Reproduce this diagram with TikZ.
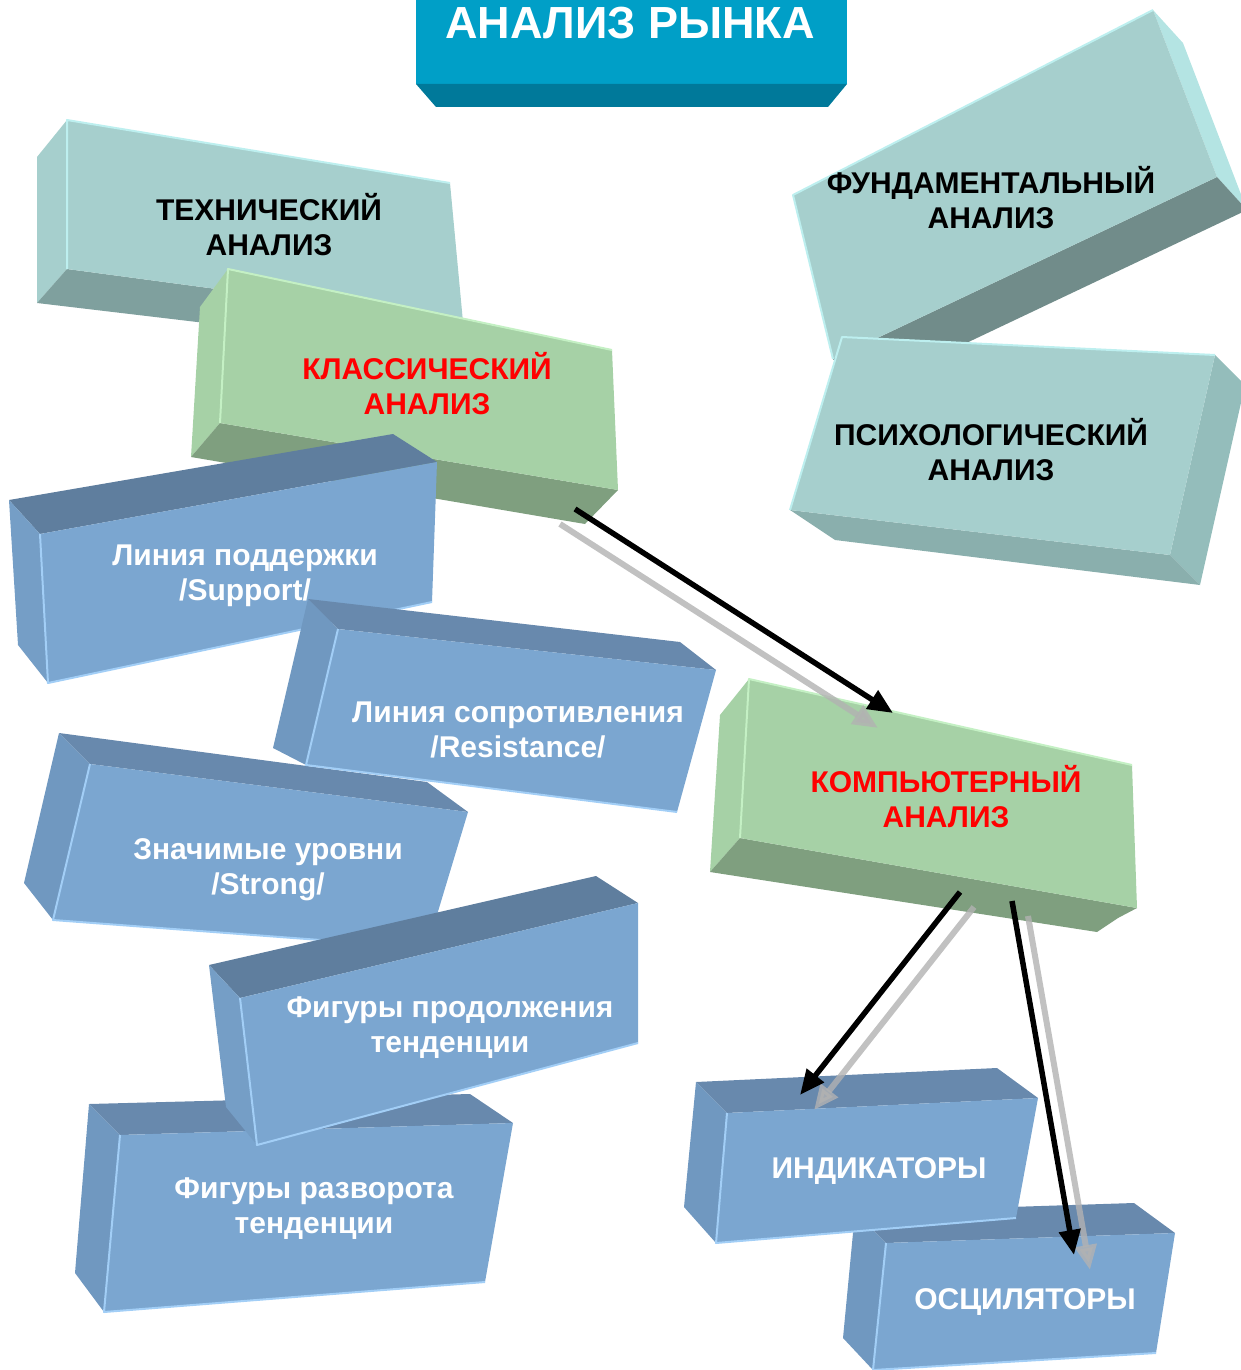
\documentclass[tikz,border=0pt]{standalone}
\usepackage{fontspec}
\setmainfont{Liberation Sans}
\usetikzlibrary{arrows.meta,calc}
\definecolor{titlefront}{HTML}{009FC7}
\definecolor{titlebottom}{HTML}{00799A}
\definecolor{tealfront}{HTML}{A6CFCD}
\definecolor{tealedge}{HTML}{BDEFEF}
\definecolor{tealside}{HTML}{B4E4E3}
\definecolor{tealbottom}{HTML}{7FA09E}
\definecolor{tealdark}{HTML}{718C8A}
\definecolor{tealright}{HTML}{94BDBB}
\definecolor{tealunder}{HTML}{8AAFAD}
\definecolor{greenfront}{HTML}{A6D1A6}
\definecolor{greenedge}{HTML}{C4F0C4}
\definecolor{greenbottom}{HTML}{7F9F7F}
\definecolor{bluefront}{HTML}{7BA6D0}
\definecolor{blueside}{HTML}{7098C0}
\definecolor{bluetop}{HTML}{5F7E9E}
\definecolor{bluetoplt}{HTML}{6889AD}
\definecolor{blueedge}{HTML}{A2CEF6}
\definecolor{redtext}{HTML}{FF0000}
\begin{document}
\begin{tikzpicture}[x=1pt,y=-1pt,
  blocktext/.style={font=\bfseries\fontsize{30}{35}\selectfont,align=center,inner sep=0pt},
  tealedgeline/.style={draw=tealedge,line width=2pt,line join=round},
  greenedgeline/.style={draw=greenedge,line width=2pt,line join=round},
  blueedgeline/.style={draw=blueedge,line width=2pt,line join=round},
  mainline/.style={line width=5.5pt,black,-{Triangle[length=25pt,width=21pt]}},
  shadowline/.style={line width=6pt,black!30,opacity=.8,-{Triangle[length=25pt,width=21pt]}}]
\useasboundingbox (0,0) rectangle (1241,1370);
% title bar
\fill[titlefront] (416,0) rectangle (847,84);
\fill[titlebottom] (416,84) -- (847,84) -- (828,107) -- (436,107) -- cycle;
\node[blocktext,font=\bfseries\fontsize{45}{50}\selectfont,text=white] (title) at (630,23) {АНАЛИЗ РЫНКА};
% technical analysis (teal, seen from below)
\fill[tealfront] (37,157) -- (67,120) -- (67,269) -- (37,303) -- cycle;
\fill[tealbottom] (37,303) -- (67,269) -- (463,322) -- (433,350) -- cycle;
\fill[tealfront] (67,120) -- (450,183) -- (463,322) -- (67,269) -- cycle;
\draw[tealedgeline] (67,269) -- (67,120) -- (450,183);
\node[blocktext] (tech) at (269,225) {ТЕХНИЧЕСКИЙ\\АНАЛИЗ};
% classical analysis (green)
\fill[greenfront] (200,307) -- (228,269) -- (220,423) -- (191,457) -- cycle;
\fill[greenbottom] (191,457) -- (220,423) -- (618,490) -- (585,524) -- cycle;
\fill[greenfront] (228,269) -- (612,350) -- (618,490) -- (220,423) -- cycle;
\draw[greenedgeline] (220,423) -- (228,269) -- (612,350);
\node[blocktext,text=redtext] (klass) at (427,384) {КЛАССИЧЕСКИЙ\\АНАЛИЗ};
% support line
\fill[bluetop] (9,500) -- (393,434) -- (437,462) -- (40,534) -- cycle;
\fill[bluefront!95!black] (9,500) -- (40,534) -- (48,683) -- (18,645) -- cycle;
\fill[bluefront] (40,534) -- (437,462) -- (432,602) -- (48,683) -- cycle;
\draw[blueedgeline] (40,534) -- (48,683) -- (432,602);
\node[blocktext,text=white] (support) at (245,576) {Линия поддержки\\/Support/};
% fundamental analysis (teal, tilted)
\fill[tealside] (1153,10) -- (1183,43) -- (1247,210) -- (1217,177) -- cycle;
\fill[tealdark] (833,359) -- (1217,177) -- (1247,210) -- (863,392) -- cycle;
\fill[tealfront] (793,195) -- (1153,10) -- (1217,177) -- (833,359) -- cycle;
\draw[tealedgeline] (833,359) -- (793,195) -- (1153,10);
\node[blocktext] (fund) at (991,198) {ФУНДАМЕНТАЛЬНЫЙ\\АНАЛИЗ};
% psychological analysis (teal)
\fill[tealright] (1215,355) -- (1245,385) -- (1200,585) -- (1170,555) -- cycle;
\fill[tealunder] (790,510) -- (1170,555) -- (1200,585) -- (835,540) -- cycle;
\fill[tealfront] (842,337) -- (1215,355) -- (1170,555) -- (790,510) -- cycle;
\draw[tealedgeline] (790,510) -- (842,337) -- (1215,355);
\node[blocktext] (psych) at (991,450) {ПСИХОЛОГИЧЕСКИЙ\\АНАЛИЗ};
% significant levels
\fill[bluetoplt] (59,733) -- (427,782) -- (468,812) -- (90,764) -- cycle;
\fill[blueside] (59,733) -- (90,764) -- (53,920) -- (24,883) -- cycle;
\fill[bluefront] (90,764) -- (468,812) -- (427,948) -- (53,920) -- cycle;
\draw[blueedgeline] (90,764) -- (53,920) -- (427,948);
\node[blocktext,text=white] (strong) at (268,870) {Значимые уровни\\/Strong/};
% resistance line
\fill[bluetoplt] (308,599) -- (680,642) -- (716,670) -- (338,629) -- cycle;
\fill[blueside] (308,599) -- (338,629) -- (306,765) -- (273,748) -- cycle;
\fill[bluefront] (338,629) -- (716,670) -- (677,812) -- (306,765) -- cycle;
\draw[blueedgeline] (338,629) -- (306,765) -- (677,812);
\node[blocktext,text=white] (resist) at (518,730) {Линия сопротивления\\/Resistance/};
% reversal patterns
\fill[bluetoplt] (89,1104) -- (470,1094) -- (513,1123) -- (120,1135) -- cycle;
\fill[blueside] (89,1104) -- (120,1135) -- (104,1312) -- (75,1273) -- cycle;
\fill[bluefront] (120,1135) -- (513,1123) -- (485,1282) -- (104,1312) -- cycle;
\draw[blueedgeline] (120,1135) -- (104,1312) -- (485,1282);
\node[blocktext,text=white] (revfig) at (314,1209) {Фигуры разворота\\тенденции};
% continuation patterns
\fill[bluetop] (209,965) -- (596,876) -- (638,903) -- (240,998) -- cycle;
\fill[bluefront!95!black] (209,965) -- (240,998) -- (257,1145) -- (226,1107) -- cycle;
\fill[bluefront] (240,998) -- (638,903) -- (638,1043) -- (257,1145) -- cycle;
\draw[blueedgeline] (240,998) -- (257,1145) -- (638,1043);
\node[blocktext,text=white] (contfig) at (450,1028) {Фигуры продолжения\\тенденции};
% computer analysis (green)
\fill[greenfront] (720,715) -- (749,679) -- (740,838) -- (710,872) -- cycle;
\fill[greenbottom] (710,872) -- (740,838) -- (1137,908) -- (1118,918) -- (1097,932) -- cycle;
\fill[greenfront] (749,679) -- (1132,765) -- (1137,908) -- (740,838) -- cycle;
\draw[greenedgeline] (740,838) -- (749,679) -- (1132,765);
\node[blocktext,text=redtext] (comp) at (946,797) {КОМПЬЮТЕРНЫЙ\\АНАЛИЗ};
% oscillators
\fill[bluetoplt] (855,1212) -- (1134,1203) -- (1175,1233) -- (886,1243) -- cycle;
\fill[blueside] (855,1212) -- (886,1243) -- (873,1370) -- (843,1338) -- cycle;
\fill[bluefront] (886,1243) -- (1175,1233) -- (1156,1353) -- (873,1370) -- cycle;
\draw[blueedgeline] (886,1243) -- (873,1370) -- (1156,1353);
\node[blocktext,text=white] (osc) at (1025,1302) {ОСЦИЛЯТОРЫ};
% indicators
\fill[bluetoplt] (696,1082) -- (997,1068) -- (1038,1098) -- (727,1113) -- cycle;
\fill[blueside] (696,1082) -- (727,1113) -- (716,1243) -- (684,1207) -- cycle;
\fill[bluefront] (727,1113) -- (1038,1098) -- (1016,1218) -- (716,1243) -- cycle;
\draw[blueedgeline] (727,1113) -- (716,1243) -- (1016,1218);
\node[blocktext,text=white] (ind) at (879,1171) {ИНДИКАТОРЫ};
% arrows, each with a grey shadow
\coordinate (klassOut) at (575,509);
\coordinate (compIn) at (893,713);
\coordinate (compOutL) at (960,892);
\coordinate (indIn) at (800,1095);
\coordinate (compOutR) at (1012,901);
\coordinate (oscIn) at (1074,1255);
\foreach \from/\to/\dx in {klassOut/compIn/-15, compOutL/indIn/14, compOutR/oscIn/16}
  \draw[shadowline] ($(\from)+(\dx,15)$) -- ($(\to)+(\dx,15)$);
\foreach \from/\to in {klassOut/compIn, compOutL/indIn, compOutR/oscIn}
  \draw[mainline] (\from) -- (\to);
\end{tikzpicture}
\end{document}
